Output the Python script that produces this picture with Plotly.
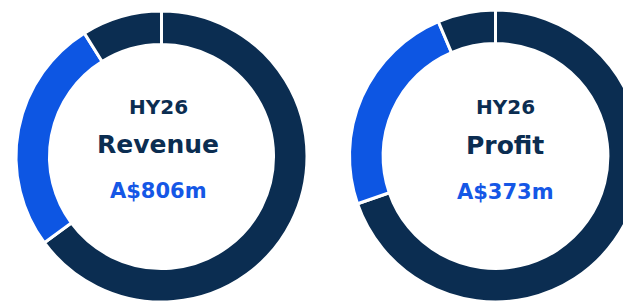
import plotly.graph_objects as go

# Data
slice_labels = ["Segment A", "Segment B", "Segment C"]
revenue_shares = [64.9, 26.2, 8.9]
profit_shares = [69.7, 23.9, 6.4]
slice_colors = ["#0b2d51", "#0d56e3", "#0b2d51"]

period = "HY26"
titles = ["Revenue", "Profit"]
amounts = ["A$806m", "A$373m"]

W, H = 660, 305  # canvas wider than window so the right donut is cut off like the reference

fig = go.Figure()
fig.add_trace(go.Pie(
    labels=slice_labels, values=revenue_shares, hole=0.77, sort=False,
    direction="clockwise", rotation=0, textinfo="none", hoverinfo="skip",
    marker=dict(colors=slice_colors, line=dict(color="white", width=3)),
    domain=dict(x=[16 / W, 307 / W], y=[1 - 302 / H, 1 - 11 / H]),
    showlegend=False,
))
fig.add_trace(go.Pie(
    labels=slice_labels, values=profit_shares, hole=0.77, sort=False,
    direction="clockwise", rotation=0, textinfo="none", hoverinfo="skip",
    marker=dict(colors=slice_colors, line=dict(color="white", width=3)),
    domain=dict(x=[349.5 / W, 641.5 / W], y=[1 - 302 / H, 1 - 10 / H]),
    showlegend=False,
))

font_family = "DejaVu Sans"
navy = "#0b2d51"
blue = "#1557e6"
centers_x = [158, 505]
rows = [([107, 107], 20, navy), ([144, 145], 25, navy), ([191, 192], 21, blue)]
for i in range(2):
    texts = [period, titles[i], amounts[i]]
    for (pys, size, color), t in zip(rows, texts):
        fig.add_annotation(
            x=centers_x[i] / W, y=1 - pys[i] / H, xref="paper", yref="paper",
            text=f"<b>{t}</b>", showarrow=False, xanchor="center", yanchor="middle",
            font=dict(family=font_family, size=size, color=color),
        )

fig.update_layout(
    width=W, height=H, margin=dict(l=0, r=0, t=0, b=0),
    paper_bgcolor="white", plot_bgcolor="white",
)

fig.write_html("out.html", config={"displayModeBar": False},
               post_script="document.body.style.margin='0';document.body.style.overflow='hidden';")
